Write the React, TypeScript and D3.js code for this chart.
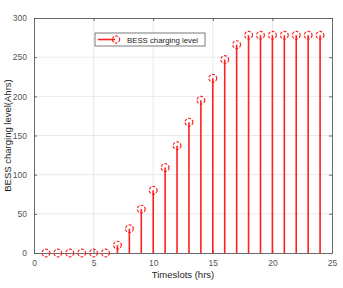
import React, { useEffect, useRef } from 'react';
import * as d3 from 'd3';

const timeslots = [1, 2, 3, 4, 5, 6, 7, 8, 9, 10, 11, 12, 13, 14, 15, 16, 17, 18, 19, 20, 21, 22, 23, 24];
const chargeLevel = [0, 0, 0, 0, 0, 0, 10, 31, 56, 80, 109, 137, 167, 195, 223, 247, 266, 278, 278, 278, 278, 278, 278, 278];
const xTicks = [0, 5, 10, 15, 20, 25];
const yTicks = [0, 50, 100, 150, 200, 250, 300];
const seriesName = 'BESS charging level';

const App: React.FC = () => {
    const ref = useRef<SVGSVGElement>(null);

    useEffect(() => {
        if (!ref.current) return;
        const svg = d3.select(ref.current);
        svg.selectAll('*').remove();

        const margin = { top: 18, right: 11, bottom: 35, left: 34 };
        const width = 343, height = 288;
        const w = width - margin.left - margin.right;
        const h = height - margin.top - margin.bottom;
        const font = 'Liberation Sans, Arial, sans-serif';
        const red = '#ff2020';
        const axisCol = '#5a5a5a';

        svg.append('rect').attr('width', width).attr('height', height).attr('fill', 'white');

        const x = d3.scaleLinear().domain([0, 25]).range([0, w]);
        const y = d3.scaleLinear().domain([0, 300]).range([h, 0]);

        const g = svg.append('g').attr('transform', `translate(${margin.left},${margin.top})`);

        // grid
        g.append('g').selectAll('line').data(xTicks.slice(1, -1)).enter().append('line')
            .attr('x1', d => x(d)).attr('x2', d => x(d)).attr('y1', 0).attr('y2', h)
            .attr('stroke', '#e3e3e3').attr('stroke-width', 0.8);
        g.append('g').selectAll('line').data(yTicks.slice(1, -1)).enter().append('line')
            .attr('y1', d => y(d)).attr('y2', d => y(d)).attr('x1', 0).attr('x2', w)
            .attr('stroke', '#e3e3e3').attr('stroke-width', 0.8);

        // axes
        const xa = g.append('g').attr('transform', `translate(0,${h})`)
            .call(d3.axisBottom(x).tickValues(xTicks).tickSize(-3).tickPadding(7).tickSizeOuter(0));
        const ya = g.append('g')
            .call(d3.axisLeft(y).tickValues(yTicks).tickSize(-3).tickPadding(7).tickSizeOuter(0));
        const xt = g.append('g')
            .call(d3.axisTop(x).tickValues(xTicks).tickSize(-3).tickFormat(() => '').tickSizeOuter(0));
        const yr = g.append('g').attr('transform', `translate(${w},0)`)
            .call(d3.axisRight(y).tickValues(yTicks).tickSize(-3).tickFormat(() => '').tickSizeOuter(0));
        [xa, ya, xt, yr].forEach(a => {
            a.select('.domain').attr('stroke', axisCol).attr('stroke-width', 0.9);
            a.selectAll('.tick line').attr('stroke', axisCol).attr('stroke-width', 0.9);
            a.selectAll('.tick text').attr('fill', '#555').style('font-family', font).style('font-size', '8.5px');
        });

        // stems
        const data = timeslots.map((t, i) => ({ t, v: chargeLevel[i] }));
        g.append('g').selectAll('line').data(data).enter().append('line')
            .attr('x1', d => x(d.t)).attr('x2', d => x(d.t))
            .attr('y1', y(0)).attr('y2', d => y(d.v))
            .attr('stroke', red).attr('stroke-width', 1.6);
        g.append('g').selectAll('circle').data(data).enter().append('circle')
            .attr('cx', d => x(d.t)).attr('cy', d => y(d.v)).attr('r', 3.9)
            .attr('fill', 'none').attr('stroke', red).attr('stroke-width', 1.2)
            .attr('stroke-dasharray', '2.8,1.5');

        // legend
        const lg = g.append('g').attr('transform', `translate(${61},${15})`);
        lg.append('rect').attr('width', 110).attr('height', 13)
            .attr('fill', 'white').attr('stroke', axisCol).attr('stroke-width', 0.8);
        lg.append('line').attr('x1', 3).attr('x2', 20).attr('y1', 6.5).attr('y2', 6.5)
            .attr('stroke', red).attr('stroke-width', 1.6);
        lg.append('circle').attr('cx', 21).attr('cy', 6.5).attr('r', 3.6)
            .attr('fill', 'none').attr('stroke', red).attr('stroke-width', 1.1).attr('stroke-dasharray', '2.6,1.4');
        lg.append('text').attr('x', 32).attr('y', 9.6).text(seriesName)
            .style('font-family', font).style('font-size', '7.8px').attr('fill', '#1a1a1a');

        // labels
        svg.append('text').attr('x', margin.left + w / 2).attr('y', 278).attr('text-anchor', 'middle')
            .text('Timeslots (hrs)').style('font-family', font).style('font-size', '9.5px').attr('fill', '#262626');
        svg.append('text').attr('transform', `translate(11,${margin.top + h / 2}) rotate(-90)`)
            .attr('text-anchor', 'middle').text('BESS charging level(Ahrs)')
            .style('font-family', font).style('font-size', '9.5px').attr('fill', '#262626');
    }, []);

    return <svg ref={ref} width={343} height={288} style={{ position: 'absolute', left: 0, top: 0 }} />;
};

export default App;
